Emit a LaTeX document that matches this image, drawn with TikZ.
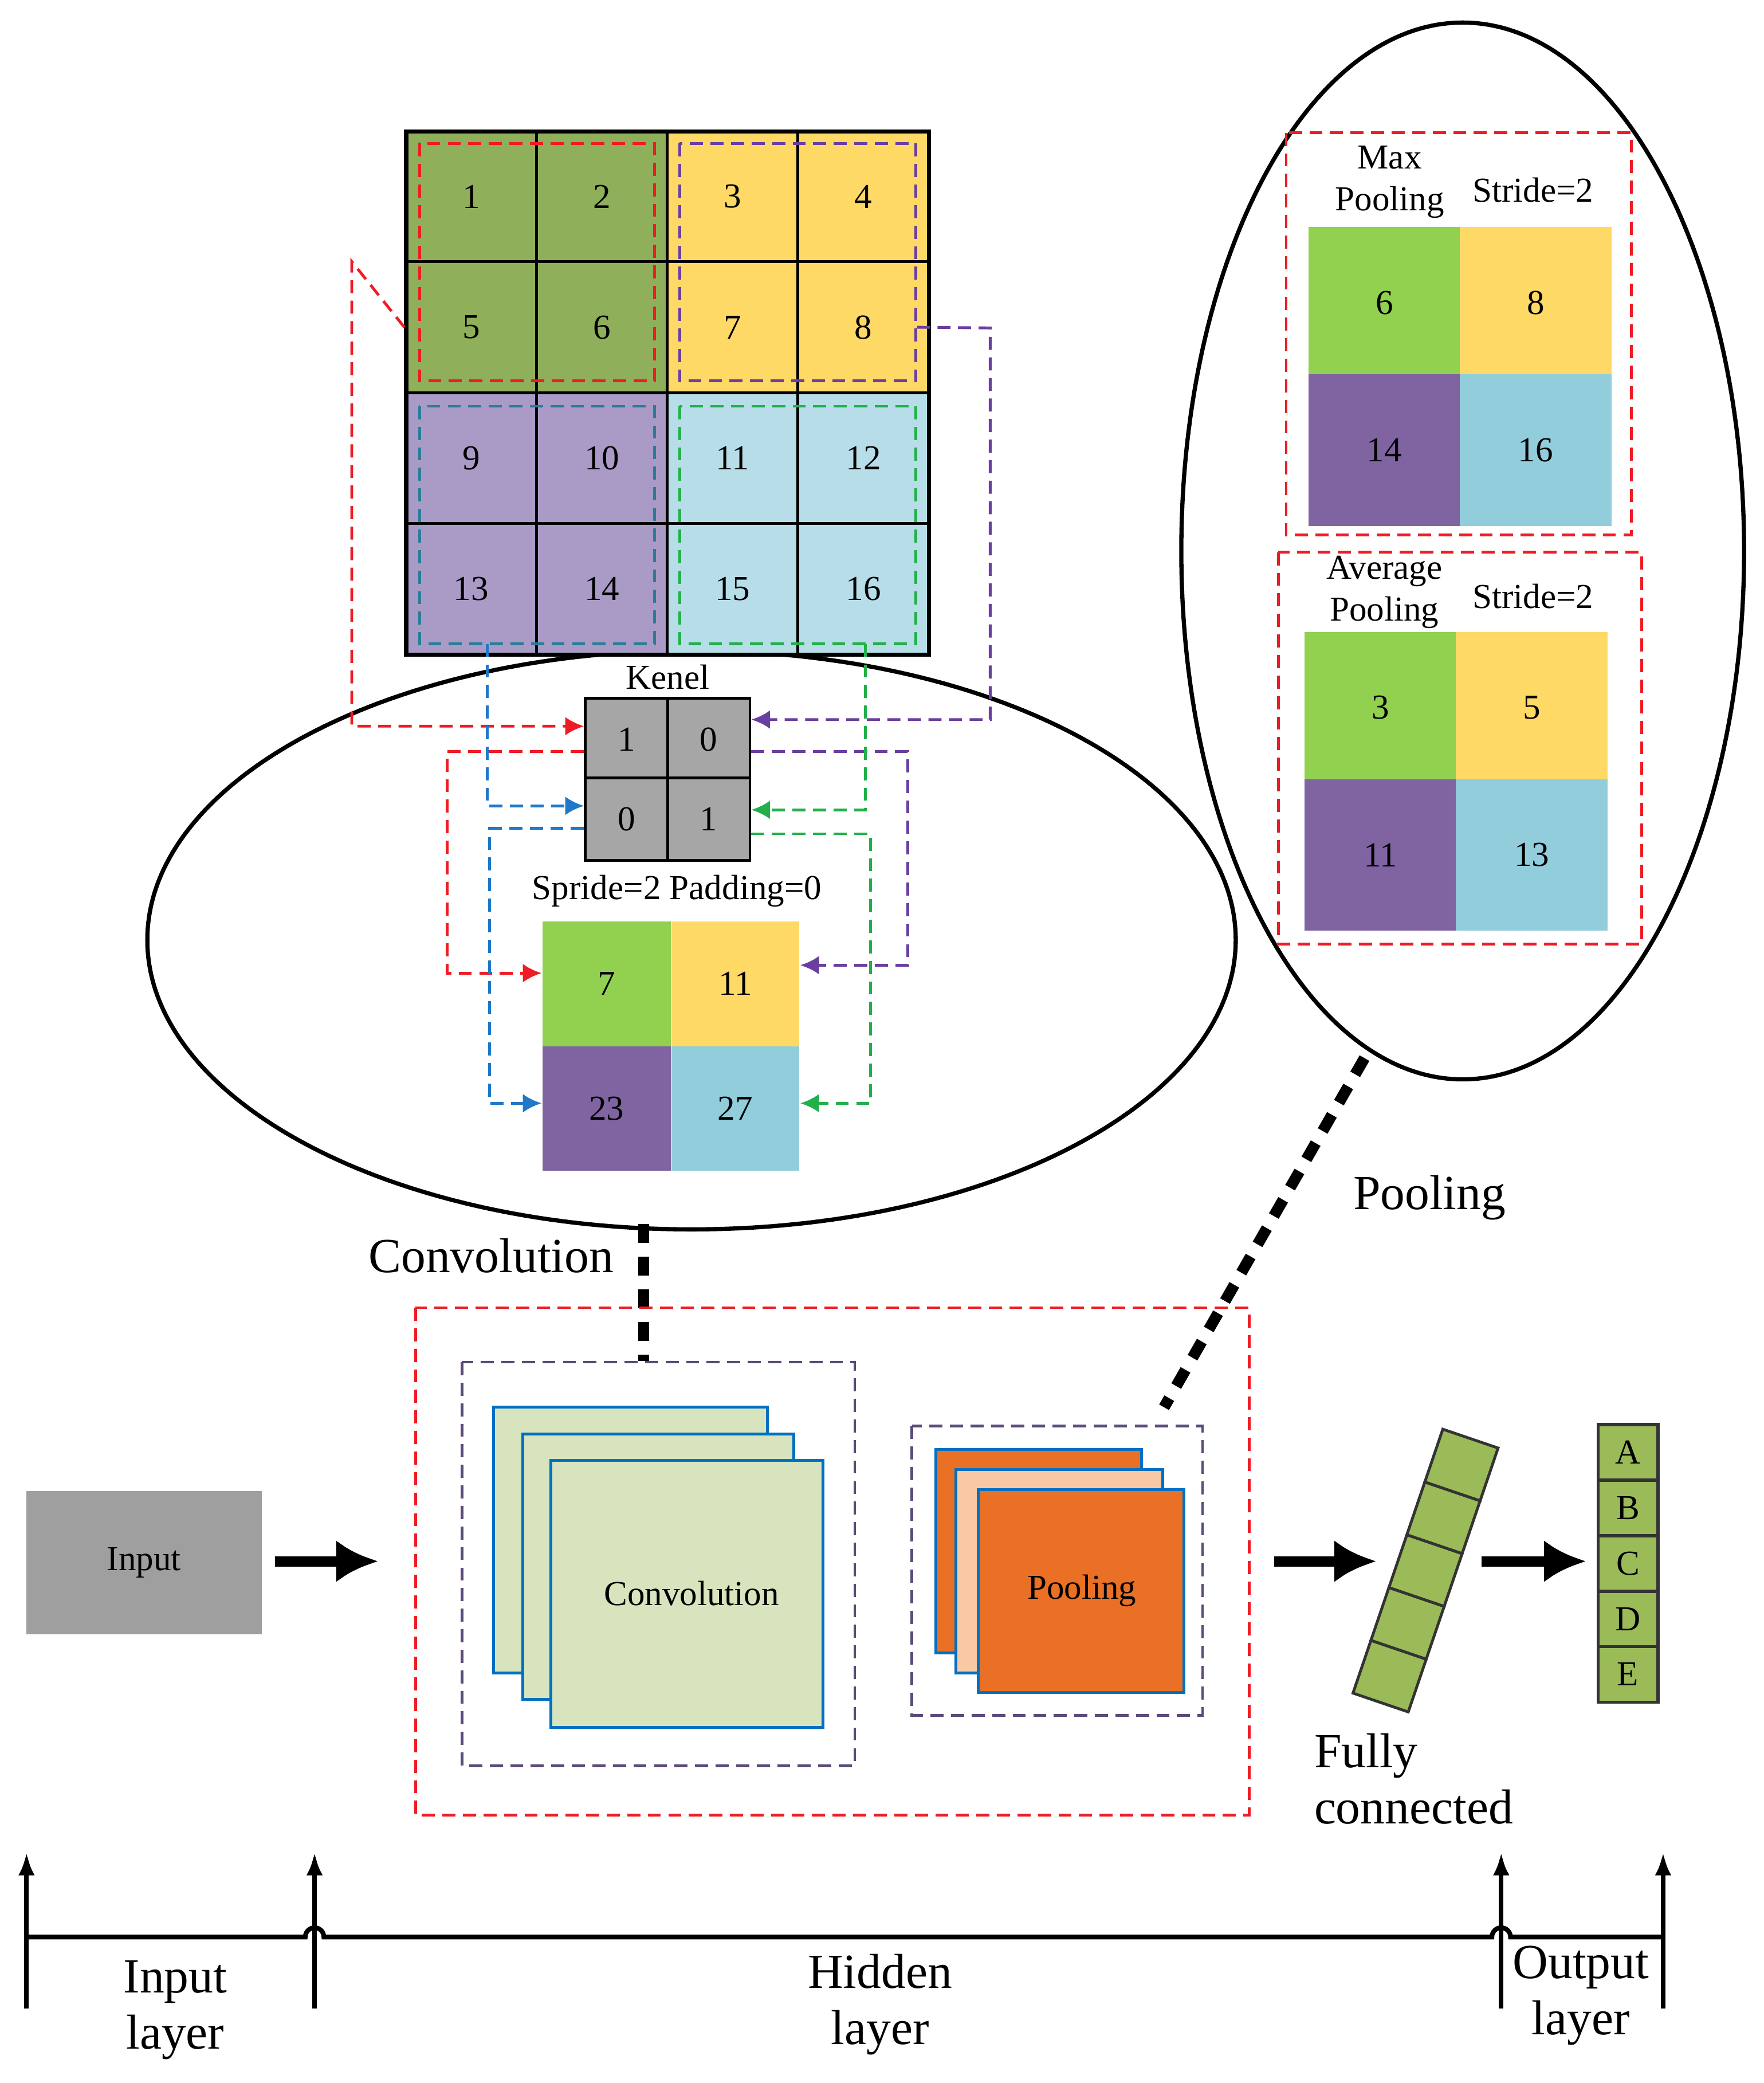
\documentclass[tikz,border=0pt]{standalone}
\usepackage{fontspec}
\setmainfont{Liberation Serif}
\usetikzlibrary{arrows.meta}
\definecolor{cOl}{HTML}{8FAF5A}
\definecolor{cYe}{HTML}{FFD966}
\definecolor{cPu}{HTML}{A99BC6}
\definecolor{cLb}{HTML}{B7DEE8}
\definecolor{cGr}{HTML}{92D050}
\definecolor{cPd}{HTML}{8064A2}
\definecolor{cBl}{HTML}{92CDDC}
\definecolor{dRed}{HTML}{EE1C24}
\definecolor{dPur}{HTML}{6A3FA0}
\definecolor{dBlu}{HTML}{1F78C8}
\definecolor{dGrn}{HTML}{22B04A}
\definecolor{dTea}{HTML}{2A7D9A}
\definecolor{boxPur}{HTML}{5B4A7A}
\definecolor{cvFill}{HTML}{D7E4BD}
\definecolor{cvEdge}{HTML}{0070C0}
\definecolor{orng}{HTML}{E97025}
\definecolor{peach}{HTML}{F9C9A6}
\definecolor{fcG}{HTML}{9BBB59}
\tikzset{
  cell/.style={draw=black,line width=0.6pt,minimum size=0.985cm,inner sep=0,font=\fontsize{7.5}{8}\selectfont},
  pcell/.style={minimum size=1.14cm,inner sep=0,font=\fontsize{7.5}{8}\selectfont},
  ocell/.style={minimum width=0.965cm,minimum height=0.94cm,inner sep=0,font=\fontsize{7.5}{8}\selectfont},
  kcell/.style={draw=black,line width=0.6pt,fill=gray!70,minimum size=0.62cm,inner sep=0,font=\fontsize{7.5}{8}\selectfont},
  dsh/.style={line width=0.6pt,dash pattern=on 2.8pt off 1.6pt},
  con/.style={dsh,-{Latex[length=4pt,width=4pt]}},
  lbl/.style={font=\fontsize{7.5}{9}\selectfont,align=center,inner sep=0},
  big/.style={font=\fontsize{10.5}{12}\selectfont,align=center,inner sep=0},
  thick arrow/.style={line width=2.2pt,-{Latex[length=9pt,width=9pt]}},
  axarr/.style={line width=1pt,-{Latex[length=5pt,width=3.5pt]}}
}
\begin{document}
\begin{tikzpicture}[x=0.01cm,y=0.01cm]
\useasboundingbox (0,0) rectangle (1329,-1569);
% ellipses
\draw[line width=0.9pt] (521,-708) ellipse [x radius=410,y radius=218];
\draw[line width=0.9pt] (1102,-415) ellipse [x radius=212,y radius=398];
% 4x4 grid
\foreach \n/\c/\r/\col in {1/0/0/cOl,2/1/0/cOl,3/2/0/cYe,4/3/0/cYe,5/0/1/cOl,6/1/1/cOl,7/2/1/cYe,8/3/1/cYe,9/0/2/cPu,10/1/2/cPu,11/2/2/cLb,12/3/2/cLb,13/0/3/cPu,14/1/3/cPu,15/2/3/cLb,16/3/3/cLb}
  \node[cell,fill=\col] (g\n) at ({355+98.5*\c},{-148-98.5*\r}) {\n};
\draw[line width=0.9pt] (306,-99) rectangle (700,-493);
\draw[dsh,dRed] (316,-108) rectangle (493,-287);
\draw[dsh,dPur] (512,-108) rectangle (690,-287);
\draw[dsh,dTea] (316,-306) rectangle (493,-485);
\draw[dsh,dGrn] (512,-306) rectangle (690,-485);
% kernel
\node[lbl] (kl) at (503,-510) {Kenel};
\node[kcell] (k1) at (472,-557) {1};
\node[kcell] (k2) at (534,-557) {0};
\node[kcell] (k3) at (472,-617) {0};
\node[kcell] (k4) at (534,-617) {1};
\node[lbl] (sp) at (510,-671) {Spride=2 Padding=0};
% output of conv
\node[ocell,fill=cGr] (o1) at (457,-741) {7};
\node[ocell,fill=cYe] (o2) at (554,-741) {11};
\node[ocell,fill=cPd] (o3) at (457,-835) {23};
\node[ocell,fill=cBl] (o4) at (554,-835) {27};
% connectors
\draw[con,dRed] (g5.west) -- (265,-197) -- (265,-547) -- (k1.west|-0,-547);
\draw[con,dRed] (k1.west|-0,-566) -- (337,-566) -- (337,-733) -- (o1.west|-0,-733);
\draw[con,dPur] (g8.east) ++(-10,0) -- (746,-247) -- (746,-542) -- (k2.east|-0,-542);
\draw[con,dPur] (k2.east|-0,-566) -- (684,-566) -- (684,-727) -- (o2.east|-0,-727);
\draw[con,dBlu] (367,-485) -- (367,-607) -- (k3.west|-0,-607);
\draw[con,dBlu] (k3.west|-0,-624) -- (369,-624) -- (369,-831) -- (o3.west|-0,-831);
\draw[con,dGrn] (652,-485) -- (652,-610) -- (k4.east|-0,-610);
\draw[con,dGrn] (k4.east|-0,-628) -- (656,-628) -- (656,-831) -- (o4.east|-0,-831);
% pooling panels
\draw[dsh,dRed] (969,-100) rectangle (1229,-403);
\node[lbl] (mp) at (1047,-137) {Max\\Pooling};
\node[lbl] (s1) at (1155,-143) {Stride=2};
\node[pcell,fill=cGr] (m1) at (1043,-228) {6};
\node[pcell,fill=cYe] (m2) at (1157,-228) {8};
\node[pcell,fill=cPd] (m3) at (1043,-339) {14};
\node[pcell,fill=cBl] (m4) at (1157,-339) {16};
\draw[dsh,dRed] (963,-416) rectangle (1237,-711);
\node[lbl] (ap) at (1043,-446) {Average\\Pooling};
\node[lbl] (s2) at (1155,-449) {Stride=2};
\node[pcell,fill=cGr] (a1) at (1040,-533) {3};
\node[pcell,fill=cYe] (a2) at (1154,-533) {5};
\node[pcell,fill=cPd] (a3) at (1040,-644) {11};
\node[pcell,fill=cBl] (a4) at (1154,-644) {13};
\node[big] (pl) at (1077,-902) {Pooling};
\node[big] (cl) at (370,-946) {Convolution};
% dotted links
\draw[line width=2.4pt,dash pattern=on 4pt off 3pt] (485,-922) -- (485,-1025);
\draw[line width=2.4pt,dash pattern=on 4pt off 3pt] (1028,-797) -- (877,-1060);
% hidden boxes
\draw[dsh,dRed] (313,-985) rectangle (941,-1367);
\draw[dsh,boxPur] (348,-1026) rectangle (644,-1330);
\draw[cvEdge,fill=cvFill,line width=0.6pt] (372,-1060) rectangle (578,-1260);
\draw[cvEdge,fill=cvFill,line width=0.6pt] (394,-1080) rectangle (598,-1280);
\draw[cvEdge,fill=cvFill,line width=0.6pt] (415,-1100) rectangle (620,-1301);
\node[lbl] (cvt) at (521,-1200) {Convolution};
\draw[dsh,boxPur] (687,-1074) rectangle (906,-1292);
\draw[cvEdge,fill=orng,line width=0.6pt] (705,-1092) rectangle (860,-1245);
\draw[cvEdge,fill=peach,line width=0.6pt] (720,-1107) rectangle (876,-1260);
\draw[cvEdge,fill=orng,line width=0.6pt] (737,-1122) rectangle (892,-1275);
\node[lbl] (plt) at (815,-1198) {Pooling};
% input
\node[fill=gray!75,minimum width=1.77cm,minimum height=1.08cm,lbl] (in) at (108.5,-1177) {Input};
\coordinate (a1s) at (207,-1176); \coordinate (a1e) at (285,-1176);
\coordinate (a2s) at (960,-1176); \coordinate (a2e) at (1037,-1176);
\coordinate (a3s) at (1116,-1176); \coordinate (a3e) at (1195,-1176);
\draw[thick arrow] (a1s) -- (a1e);
\draw[thick arrow] (a2s) -- (a2e);
\draw[thick arrow] (a3s) -- (a3e);
% fully connected strip
\begin{scope}[shift={(1074,-1183)},rotate=-18.8]
\foreach \i in {0,...,4}
  \draw[fill=fcG,draw=black!80,line width=0.6pt] (-22,{-105+42*\i}) rectangle (22,{-63+42*\i});
\end{scope}
\foreach \l [count=\i from 0] in {A,B,C,D,E}
  \node[fill=fcG,draw=black!80,line width=0.7pt,minimum width=0.45cm,minimum height=0.418cm,inner sep=0,font=\fontsize{7.5}{8}\selectfont] (c\l) at (1226.5,{-1094-41.8*\i}) {\l};
\node[big,align=left] (fc) at (1065,-1340) {Fully\\connected};
% axis
\draw[line width=1pt] (20,-1459) -- (230,-1459) arc (180:0:7) -- (1124,-1459) arc (180:0:7) -- (1253,-1459);
\foreach \x/\nm in {20/ax1,237/ax2,1131/ax3,1253/ax4}
  \draw[axarr] (\x,-1513) -- (\x,-1395);
\node[big] (il) at (132,-1514) {Input\\layer};
\node[big] (hl) at (663,-1510) {Hidden\\layer};
\node[big] (ol) at (1191,-1503) {Output\\layer};
\end{tikzpicture}
\end{document}
